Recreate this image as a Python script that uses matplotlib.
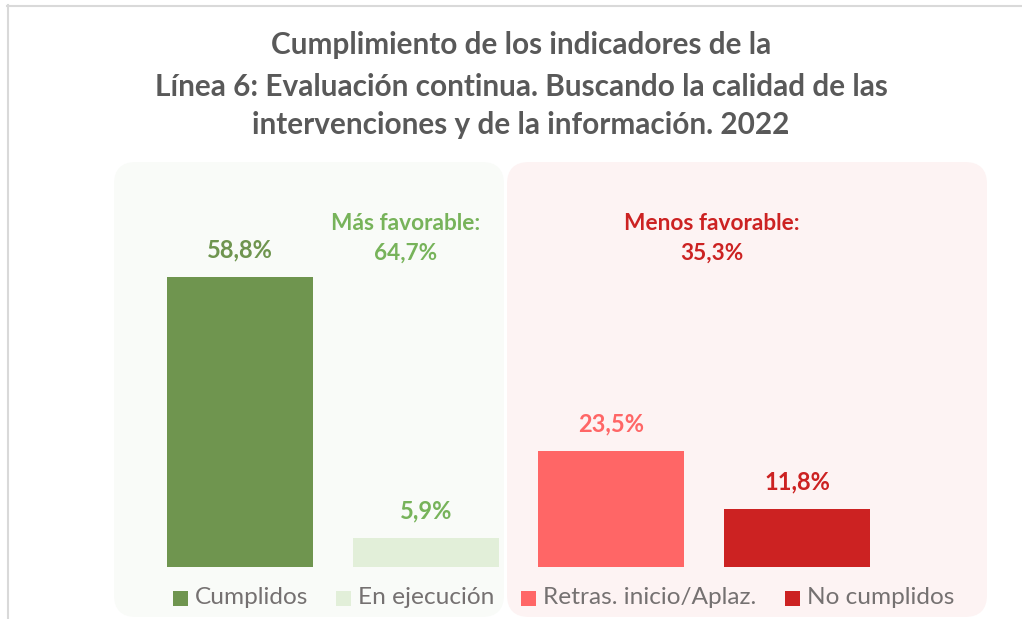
import matplotlib
matplotlib.use("Agg")
import matplotlib.pyplot as plt
import matplotlib.transforms as mtransforms
from matplotlib.patches import FancyBboxPatch, Rectangle
from matplotlib.lines import Line2D

categories = ["Cumplidos", "En ejecución", "Retras. inicio/Aplaz.", "No cumplidos"]
values = [58.8, 5.9, 23.5, 11.8]
value_labels = ["58,8%", "5,9%", "23,5%", "11,8%"]
group_labels = ["Más favorable:\n64,7%", "Menos favorable:\n35,3%"]
title_lines = ["Cumplimiento de los indicadores de la",
               "Línea 6: Evaluación continua. Buscando la calidad de las",
               "intervenciones y de la información. 2022"]

bar_colors = ["#6f954f", "#e2efd9", "#ff6666", "#cc2222"]
label_colors = ["#6f954f", "#77b35a", "#ff6666", "#cc2222"]

W, H = 1022, 619
fig = plt.figure(figsize=(W / 100, H / 100), dpi=100)
fig.patch.set_facecolor("white")
FONT = "Lato"


def fx(px):
    return px / W


def fy(py):
    return 1 - py / H


# outer border lines
fig.add_artist(Line2D([fx(7), fx(W)], [fy(5.5), fy(5.5)], color="#d9d9d9", lw=1.5))
fig.add_artist(Line2D([fx(7.5), fx(7.5)], [fy(5), fy(H)], color="#d9d9d9", lw=1.5))

# background panels (pixel coordinates, origin bottom-left)
pix = mtransforms.Affine2D()
for (x0, x1, col) in [(114, 504, "#f9fbf8"), (507, 987, "#fdf3f3")]:
    p = FancyBboxPatch((x0, H - 617), x1 - x0, 617 - 162,
                       boxstyle="round,pad=0,rounding_size=22",
                       transform=pix, facecolor=col, edgecolor="none", zorder=0)
    fig.add_artist(p)

# axes spanning the whole figure, data mapped to pixels
ax = fig.add_axes([0, 0, 1, 1])
ax.set_facecolor("none")
unit = 185.7
px_per_pct = 4.93
ax.set_xlim((0 - 240) / unit, (W - 240) / unit)
ax.set_ylim(-(H - 567) / px_per_pct, 567 / px_per_pct)
ax.axis("off")

xs = list(range(len(categories)))
ax.bar(xs, values, width=146 / unit, color=bar_colors, zorder=2)

renderer = fig.canvas.get_renderer()


def fit(t, target):
    bb = t.get_window_extent(renderer)
    t.set_fontsize(t.get_fontsize() * target / bb.width)


for x, v, lab, c in zip(xs, values, value_labels, label_colors):
    ax.text(x, v + 27 / px_per_pct, lab, ha="center", va="center",
            fontsize=17, fontweight="bold", color=c, family=FONT)

# group labels
fig.text(fx(406), fy(238), group_labels[0], ha="center", va="center",
         fontsize=16.3, fontweight="bold", color="#77b35a", family=FONT,
         linespacing=1.5)
fig.text(fx(712), fy(238), group_labels[1], ha="center", va="center",
         fontsize=16.3, fontweight="bold", color="#cc2222", family=FONT,
         linespacing=1.5)

# title
ys = [45, 87, 125]
tts = []
for line, y in zip(title_lines, ys):
    t = fig.text(fx(521), fy(y), line, ha="center", va="center", fontsize=18,
                 fontweight="bold", color="#595959", family=FONT)
    tts.append(t)
fit(tts[1], 737)
for t in tts:
    t.set_fontsize(tts[1].get_fontsize())

# legend (manual)
leg_sq = [173, 336, 521, 785]
for sx, cat, col in zip(leg_sq, categories, bar_colors):
    fig.add_artist(Rectangle((fx(sx), fy(606)), 15 / W, 15 / H, transform=fig.transFigure,
                             facecolor=col, edgecolor="none"))
    fig.text(fx(sx + 22), fy(598), cat, ha="left", va="center", fontsize=17.6,
             color="#757171", family=FONT)

fig.savefig("out.png", dpi=100, facecolor="white")
